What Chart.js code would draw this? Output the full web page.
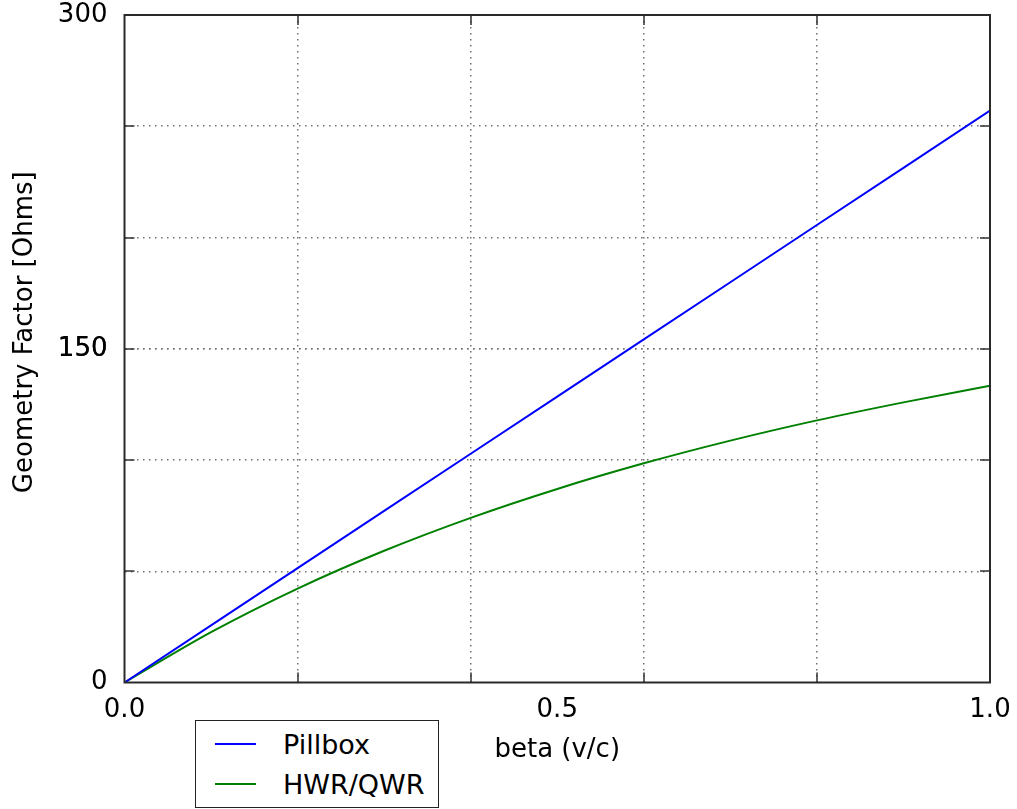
<!DOCTYPE html>
<html>
<head>
<meta charset="utf-8">
<title>Geometry Factor vs beta</title>
<script src="https://cdn.jsdelivr.net/npm/chart.js@4/dist/chart.umd.min.js"></script>
<style>
  html, body { margin: 0; padding: 0; background: #fff; overflow: hidden; }
  #wrap { position: relative; width: 1017px; height: 809px; }
  #legend {
    position: absolute; left: 195px; top: 720px; width: 244px; height: 88px;
    border: 1.5px solid #222; background: #fff; box-sizing: border-box;
    font-family: "DejaVu Sans", sans-serif; font-size: 27px; color: #000;
  }
  .row { position: absolute; left: 0; height: 30px; display: flex; align-items: center; }
  .swatch { display: inline-block; width: 41px; height: 0; border-top: 2px solid; margin-left: 19px; margin-right: 27px; }
</style>
</head>
<body>
<div id="wrap">
  <canvas id="chart" width="1017" height="809"></canvas>
  <div id="legend"></div>
</div>
<script>
// --- donnees ---
const beta = [0, 0.1, 0.2, 0.3, 0.4, 0.5, 0.6, 0.7, 0.8, 0.9, 1.0];
const pillbox = [0, 25.7, 51.4, 77.1, 102.8, 128.5, 154.2, 179.9, 205.6, 231.3, 257.0];
const hwrQwr = [0, 22.6, 42.2, 59.2, 74.0, 87.0, 98.5, 108.7, 117.8, 125.9, 133.4];

const xGridValues = [0.2, 0.4, 0.6, 0.8];
const xLabelValues = [0, 0.5, 1.0];
const yGridValues = [50, 100, 150, 200, 250];
const yLabelValues = [0, 150, 300];

const FONT = '"DejaVu Sans", sans-serif';
const GRID_COLOR = '#707070';

const toPoints = (ys) => beta.map((b, i) => ({ x: b, y: ys[i] }));

// cadre + petites graduations vers l'interieur
const framePlugin = {
  id: 'frame',
  afterDatasetsDraw(chart) {
    const { ctx, chartArea: a, scales: { x, y } } = chart;
    ctx.save();
    ctx.strokeStyle = '#333';
    ctx.lineWidth = 1.5;
    ctx.beginPath();
    xGridValues.forEach(v => {
      const px = Math.round(x.getPixelForValue(v));
      ctx.moveTo(px, a.bottom); ctx.lineTo(px, a.bottom - 10);
      ctx.moveTo(px, a.top); ctx.lineTo(px, a.top + 10);
    });
    yGridValues.forEach(v => {
      const py = Math.round(y.getPixelForValue(v));
      ctx.moveTo(a.left, py); ctx.lineTo(a.left + 10, py);
      ctx.moveTo(a.right, py); ctx.lineTo(a.right - 10, py);
    });
    ctx.stroke();
    ctx.lineWidth = 2;
    ctx.strokeStyle = '#2a2a2a';
    ctx.strokeRect(a.left, a.top, a.right - a.left, a.bottom - a.top);
    ctx.restore();
  }
};

const chart = new Chart(document.getElementById('chart'), {
  type: 'line',
  data: {
    datasets: [
      {
        label: 'Pillbox',
        data: toPoints(pillbox),
        borderColor: '#0000ff',
        borderWidth: 2,
        pointRadius: 0,
        tension: 0
      },
      {
        label: 'HWR/QWR',
        data: toPoints(hwrQwr),
        borderColor: '#008000',
        borderWidth: 2,
        pointRadius: 0,
        cubicInterpolationMode: 'monotone'
      }
    ]
  },
  options: {
    responsive: false,
    animation: false,
    layout: { padding: { left: 0, right: 27, top: 15, bottom: 0 } },
    plugins: {
      legend: { display: false },
      tooltip: { enabled: false }
    },
    scales: {
      x: {
        type: 'linear',
        min: 0,
        max: 1,
        afterBuildTicks: (scale) => {
          scale.ticks = [...xGridValues, ...xLabelValues].sort((a, b) => a - b).map(v => ({ value: v }));
        },
        afterFit: (scale) => {
          scale.height = 126.5;
          scale.paddingLeft = 0;
          scale.paddingRight = 0;
        },
        ticks: {
          autoSkip: false,
          maxRotation: 0,
          padding: 12,
          color: '#000',
          font: { family: FONT, size: 26 },
          callback: (v) => xLabelValues.includes(v) ? v.toFixed(1) : ''
        },
        grid: {
          drawTicks: false,
          lineWidth: 1.5,
          color: (ctx) => ctx.tick && xGridValues.includes(ctx.tick.value) ? GRID_COLOR : 'rgba(0,0,0,0)'
        },
        border: { display: false, dash: [1.5, 4.5] },
        title: {
          display: true,
          text: 'beta (v/c)',
          color: '#000',
          font: { family: FONT, size: 26 },
          padding: { top: 0, bottom: 43 }
        }
      },
      y: {
        type: 'linear',
        min: 0,
        max: 300,
        afterBuildTicks: (scale) => {
          scale.ticks = [...yGridValues, ...yLabelValues].sort((a, b) => a - b).map(v => ({ value: v }));
        },
        afterFit: (scale) => {
          scale.width = 124.5;
          scale.paddingTop = 0;
          scale.paddingBottom = 0;
        },
        ticks: {
          autoSkip: false,
          padding: 17,
          color: '#000',
          font: { family: FONT, size: 26 },
          callback: (v) => yLabelValues.includes(v) ? String(v) : ''
        },
        grid: {
          drawTicks: false,
          lineWidth: 1.5,
          color: (ctx) => ctx.tick && yGridValues.includes(ctx.tick.value) ? GRID_COLOR : 'rgba(0,0,0,0)'
        },
        border: { display: false, dash: [1.5, 4.5] },
        title: {
          display: true,
          text: '    Geometry Factor [Ohms]',
          color: '#000',
          font: { family: FONT, size: 26 },
          padding: { top: 10, bottom: 0 }
        }
      }
    }
  },
  plugins: [framePlugin]
});

// legende HTML construite a partir des series
const legend = document.getElementById('legend');
const rowTops = [8, 48];
chart.data.datasets.forEach((ds, i) => {
  const row = document.createElement('div');
  row.className = 'row';
  row.style.top = rowTops[i] + 'px';
  row.innerHTML = `<span class="swatch" style="border-top-color:${ds.borderColor}"></span><span>${ds.label}</span>`;
  legend.appendChild(row);
});
</script>
</body>
</html>
